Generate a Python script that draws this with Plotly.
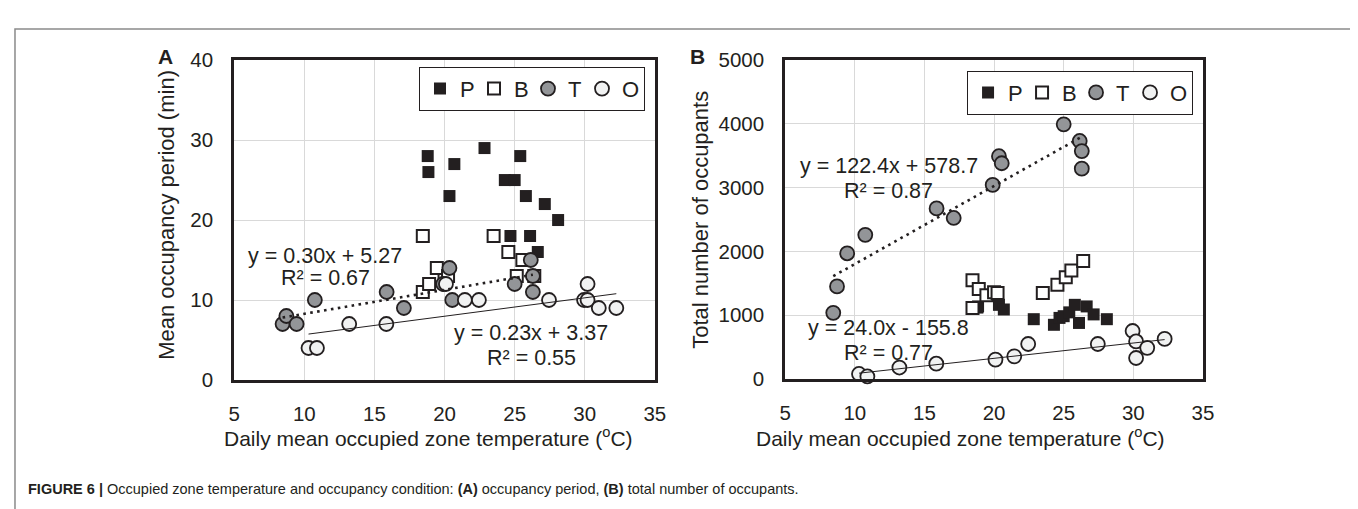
import plotly.graph_objects as go

W, H = 1358, 509

# ---------------- data ----------------
# P building (filled squares)
temp_P = [18.8, 18.85, 20.35, 20.7, 22.85, 24.3, 24.7, 25.0, 25.4, 25.8, 26.1, 26.65, 27.15, 28.1]
period_P = [28, 26, 23, 27, 29, 25, 18, 25, 28, 23, 18, 16, 22, 20]
occupants_P = [1120, 1138, 1163, 1090, 938, 850, 958, 985, 1045, 1163, 879, 1138, 1013, 938]

# B building (open squares)
temp_B = [18.45, 18.45, 18.9, 19.45, 20.0, 20.25, 23.5, 24.55, 25.15, 25.55, 26.4]
period_B = [18, 11, 12, 14, 12.5, 13, 18, 16, 13, 15, 13]
occupants_B = [1547, 1112, 1412, 1312, 1362, 1347, 1347, 1477, 1597, 1702, 1851]

# T building (grey circles)
temp_T = [8.45, 8.72, 9.45, 10.75, 15.87, 17.1, 19.9, 20.35, 20.55, 25.0, 26.15, 26.3, 26.3]
period_T = [7, 8, 7, 10, 11, 9, 12, 14, 10, 12, 15, 13, 11]
occupants_T = [1037, 1452, 1971, 2260, 2675, 2525, 3043, 3493, 3383, 3993, 3732, 3573, 3298]

# O building (open circles)
temp_O = [10.3, 10.9, 13.2, 15.85, 20.1, 21.45, 22.45, 27.45, 29.95, 30.2, 30.2, 31.0, 32.25]
period_O = [4, 4, 7, 7, 12, 10, 10, 10, 10, 12, 10, 9, 9]
occupants_O = [79, 40, 180, 240, 304, 355, 549, 549, 753, 589, 329, 489, 629]

# linear trendlines (slope, intercept) as printed on the chart
fit_A_T = (0.30, 5.27)
fit_A_O = (0.23, 3.37)
fit_B_T = (122.4, 578.7)
fit_B_O = (24.0, -155.8)

x_ticks = [5, 10, 15, 20, 25, 30, 35]

# ---------------- styling ----------------
FONT = "Liberation Sans, Arial, sans-serif"
DARK = "#231f20"
GRID = "#d9d9d9"

sty = {
    "P": dict(symbol="square", size=12, color=DARK, line=dict(width=0)),
    "B": dict(symbol="square", size=12, color="white", line=dict(width=2, color=DARK)),
    "T": dict(symbol="circle", size=14, color="#939598", line=dict(width=1.8, color=DARK)),
    "O": dict(symbol="circle", size=14, color="#f1f2f2", line=dict(width=1.8, color=DARK)),
}
leg_w = {"P": 9, "B": 9, "T": 9, "O": 17}

fig = go.Figure()

def add_panel(xa, ya, leg, series, fits, tempT, tempO):
    for name, xs, ys in series:
        fig.add_trace(go.Scatter(
            x=xs, y=ys, mode="markers", name=name, marker=sty[name],
            xaxis=xa, yaxis=ya, legend=leg, showlegend=True, cliponaxis=False,
            legendwidth=leg_w[name]))
    (sT, iT), (sO, iO) = fits
    xt = [min(tempT), max(tempT)]
    fig.add_trace(go.Scatter(x=xt, y=[sT * v + iT for v in xt], mode="lines",
                             line=dict(color=DARK, width=2.6, dash="2.6px,4.4px"),
                             xaxis=xa, yaxis=ya, showlegend=False, hoverinfo="skip"))
    xo = [min(tempO), max(tempO)]
    fig.add_trace(go.Scatter(x=xo, y=[sO * v + iO for v in xo], mode="lines",
                             line=dict(color=DARK, width=1),
                             xaxis=xa, yaxis=ya, showlegend=False, hoverinfo="skip"))

add_panel("x", "y", "legend",
          [("P", temp_P, period_P), ("B", temp_B, period_B),
           ("T", temp_T, period_T), ("O", temp_O, period_O)],
          (fit_A_T, fit_A_O), temp_T, temp_O)
add_panel("x2", "y2", "legend2",
          [("P", temp_P, occupants_P), ("B", temp_B, occupants_B),
           ("T", temp_T, occupants_T), ("O", temp_O, occupants_O)],
          (fit_B_T, fit_B_O), temp_T, temp_O)

def px(v):
    return v / W

def py(v):
    return 1 - v / H

axis_common = dict(showline=True, linewidth=3, linecolor=DARK, mirror=True,
                   showgrid=True, gridcolor=GRID, gridwidth=1, zeroline=False,
                   ticks="", tickfont=dict(family=FONT, size=20.5, color=DARK))

legend_common = dict(orientation="h", xanchor="right", yanchor="top",
                     bordercolor=DARK, borderwidth=1, bgcolor="white",
                     font=dict(family=FONT, size=22, color=DARK), itemwidth=30,
                     traceorder="normal")

fig.update_layout(
    width=W, height=H, paper_bgcolor="white", plot_bgcolor="white",
    margin=dict(l=0, r=0, t=0, b=0),
    font=dict(family=FONT, color=DARK),
    xaxis=dict(domain=[px(223), px(649)], range=[5, 35], tickvals=x_ticks,
               anchor="y", ticklabelstandoff=13, **axis_common),
    yaxis=dict(domain=[py(377), py(42)], range=[0, 40], dtick=10,
               anchor="x", ticklabelstandoff=14, **axis_common),
    xaxis2=dict(domain=[px(781), px(1204)], range=[5, 35], tickvals=x_ticks,
                anchor="y2", ticklabelstandoff=13, **axis_common),
    yaxis2=dict(domain=[py(376), py(42)], range=[0, 5000], dtick=1000,
                anchor="x2", ticklabelstandoff=14, **axis_common),
    legend=dict(x=px(639), y=py(49), **legend_common),
    legend2=dict(x=px(1194), y=py(53), **legend_common),
)

ann = []
def text(x, y, s, xref="paper", yref="paper", size=22, angle=0, xanchor="center", bold=False):
    ann.append(dict(x=x, y=y, xref=xref, yref=yref, text=(f"<b>{s}</b>" if bold else s),
                    showarrow=False, xanchor=xanchor, yanchor="middle", textangle=angle,
                    font=dict(family=FONT, size=size, color=DARK)))

# panel letters
text(px(153), py(38), "A", bold=True, size=21)
text(px(692), py(38), "B", bold=True, size=21)
# axis titles
text(px(155), py(204), "Mean occupancy period (min)", angle=-90)
text(px(695), py(209), "Total number of occupants", angle=-90)
xt = "Daily mean occupied zone temperature (<sup>o</sup>C)"
text(px(420), py(437), xt, size=21)
text(px(958), py(437), xt, size=21)
# regression equations
text(11.48, (377 - 247) / 8.375, "y = 0.30x + 5.27", "x", "y", size=21.5)
text(11.48, (377 - 270) / 8.375, "R² = 0.67", "x", "y", size=21.5)
text(26.2, (377 - 328) / 8.375, "y = 0.23x + 3.37", "x", "y", size=21.5)
text(26.2, (377 - 354) / 8.375, "R² = 0.55", "x", "y", size=21.5)
text(12.43, (376 - 153) * 14.97, "y = 122.4x + 578.7", "x2", "y2", size=21.5)
text(12.43, (376 - 179) * 14.97, "R² = 0.87", "x2", "y2", size=21.5)
text(12.43, (376 - 323) * 14.97, "y = 24.0x - 155.8", "x2", "y2", size=21.5)
text(12.43, (376 - 349) * 14.97, "R² = 0.77", "x2", "y2", size=21.5)
# caption
text(px(12), py(491),
     "<b>FIGURE 6 |</b> Occupied zone temperature and occupancy condition: <b>(A)</b> occupancy period, "
     "<b>(B)</b> total number of occupants.", size=14.5, xanchor="left")
fig.update_layout(annotations=ann)

# outer figure frame
fig.add_shape(type="rect", xref="paper", yref="paper", x0=px(1), x1=px(1355.5),
              y0=-0.2, y1=py(9.5), line=dict(color="#8a8a8a", width=1.5), layer="below")

fig.write_html("out.html")
